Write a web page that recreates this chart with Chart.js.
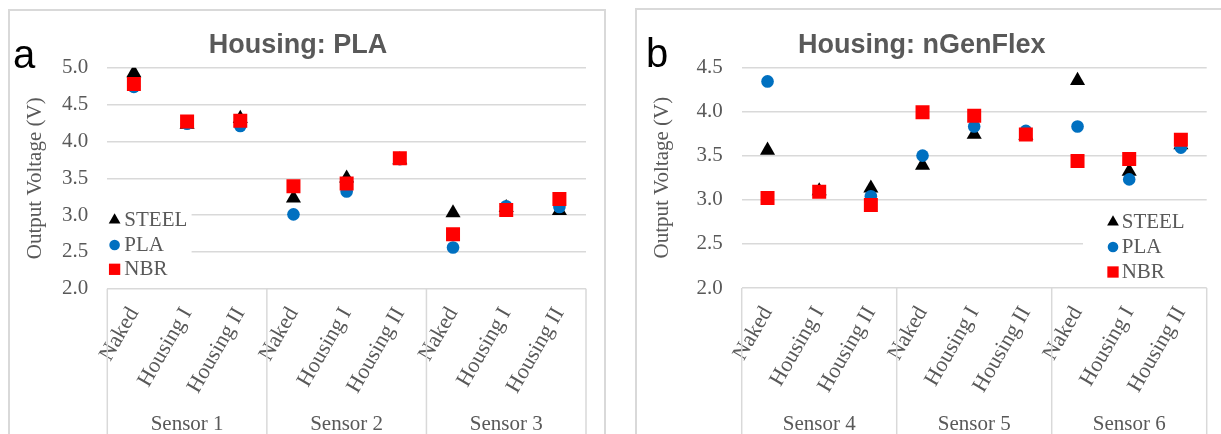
<!DOCTYPE html>
<html>
<head>
<meta charset="utf-8">
<script src="https://cdn.jsdelivr.net/npm/chart.js@4.4.0/dist/chart.umd.min.js"></script>
<style>
  body { margin: 0; background: #fff; width: 1221px; height: 434px; overflow: hidden; position: relative; }
  .panel { position: absolute; border: 2px solid #d9d9d9; border-bottom: none; height: 440px; box-sizing: border-box; }
  .panel canvas { position: absolute; left: 0; top: 0; }
  .tag { position: absolute; font-family: 'Liberation Sans'; font-size: 40px; line-height: 40px; color: #000; }
</style>
</head>
<body>
<div class="panel" style="left:8px; top:9px; width:598px;"><canvas id="c1" width="594" height="423"></canvas></div>
<div class="panel" style="left:635px; top:8px; width:600px;"><canvas id="c2" width="594" height="424"></canvas></div>
<div class="tag" style="left:13px; top:34px;">a</div>
<div class="tag" style="left:646px; top:33px;">b</div>
<script>
// categories (same for both panels)
var categories = ['Naked', 'Housing I', 'Housing II',
                  'Naked', 'Housing I', 'Housing II',
                  'Naked', 'Housing I', 'Housing II'];
var groupsA = ['Sensor 1', 'Sensor 2', 'Sensor 3'];
var groupsB = ['Sensor 4', 'Sensor 5', 'Sensor 6'];

// panel a - Housing: PLA
var steelA = [4.93, 4.23, 4.31, 3.23, 3.50, 3.75, 3.03, 3.10, 3.06];
var plaA   = [4.74, 4.24, 4.21, 3.01, 3.32, 3.76, 2.56, 3.12, 3.11];
var nbrA   = [4.78, 4.27, 4.28, 3.39, 3.43, 3.77, 2.74, 3.07, 3.22];

// panel b - Housing: nGenFlex
var steelB = [3.56, 3.10, 3.13, 3.39, 3.74, 3.73, 4.35, 3.32, 3.62];
var plaB   = [4.34, 3.09, 3.04, 3.50, 3.83, 3.78, 3.83, 3.23, 3.59];
var nbrB   = [3.02, 3.09, 2.94, 3.99, 3.95, 3.74, 3.44, 3.46, 3.68];

var yRangeA = [2.0, 5.0];
var yRangeB = [2.0, 4.5];

var grey = '#595959';
var serif = '"Liberation Serif", "DejaVu Serif", serif';

// two-level category axis: separators + sensor names under the rotated labels
var sensorGroups = {
    id: 'sensorGroups',
    afterDraw: function(chart, args, opts) {
        var ctx = chart.ctx, area = chart.chartArea, x = chart.scales.x;
        var n = opts.labels.length, per = chart.data.labels.length / n;
        var edges = [];
        ctx.save();
        ctx.strokeStyle = '#d9d9d9';
        ctx.lineWidth = 1.5;
        for (var g = 0; g <= n; g++) {
            var px;
            if (g === 0) px = area.left;
            else if (g === n) px = area.right;
            else px = (x.getPixelForValue(g * per - 1) + x.getPixelForValue(g * per)) / 2;
            edges.push(px);
            ctx.beginPath();
            ctx.moveTo(px, area.bottom);
            ctx.lineTo(px, chart.height);
            ctx.stroke();
        }
        ctx.fillStyle = grey;
        ctx.font = '21px ' + serif;
        ctx.textAlign = 'center';
        ctx.textBaseline = 'middle';
        opts.labels.forEach(function(t, i) {
            ctx.fillText(t, (edges[i] + edges[i + 1]) / 2, chart.height - opts.bottom);
        });
        ctx.restore();
    }
};

// legend in a white box inside the plot, like excel does it
var boxLegend = {
    id: 'boxLegend',
    afterDraw: function(chart, args, opts) {
        var ctx = chart.ctx, area = chart.chartArea;
        var bx = opts.side === 'left' ? area.left + opts.x0 : area.right + opts.x0;
        var bx2 = opts.side === 'left' ? area.left + opts.x1 : area.right + opts.x1;
        ctx.save();
        ctx.fillStyle = '#fff';
        ctx.fillRect(bx, area.bottom - opts.top, bx2 - bx, opts.top - 1.5);
        var sizes = { triangle: 6.8, circle: 5.3, rect: 8 };
        chart.data.datasets.forEach(function(ds, i) {
            var cy = area.bottom - opts.rows[i];
            ctx.fillStyle = ds.backgroundColor;
            Chart.helpers.drawPoint(ctx, { pointStyle: ds.pointStyle, radius: sizes[ds.pointStyle], rotation: 0, borderWidth: 0 }, bx + opts.marker, cy);
            ctx.fillStyle = grey;
            ctx.font = '21px ' + serif;
            ctx.textAlign = 'left';
            ctx.textBaseline = 'middle';
            ctx.fillText(ds.label, bx + opts.text, cy);
        });
        ctx.restore();
    }
};

function makeSets(steel, pla, nbr) {
    var sets = [
        { label: 'STEEL', data: steel, pointStyle: 'triangle', pointRadius: 8.7, backgroundColor: '#000000', order: 3 },
        { label: 'PLA', data: pla, pointStyle: 'circle', pointRadius: 6.3, backgroundColor: '#0070c0', order: 2 },
        { label: 'NBR', data: nbr, pointStyle: 'rect', pointRadius: 9.9, backgroundColor: '#ff0000', order: 1 }
    ];
    sets.forEach(function(d) {
        d.showLine = false;
        d.borderColor = d.backgroundColor;
        d.pointBackgroundColor = d.backgroundColor;
        d.pointBorderWidth = 0;
        d.borderWidth = 0;
        d.pointHoverRadius = d.pointRadius;
    });
    return sets;
}

function makeChart(id, cfg) {
    var font = { family: serif, size: 21 };
    return new Chart(document.getElementById(id), {
        type: 'line',
        data: { labels: categories, datasets: makeSets(cfg.steel, cfg.pla, cfg.nbr) },
        options: {
            responsive: false,
            animation: false,
            events: [],
            layout: { padding: { left: 0, right: cfg.padRight, top: 0, bottom: 0 } },
            plugins: {
                legend: { display: false },
                tooltip: { enabled: false },
                title: {
                    display: true,
                    text: cfg.title,
                    color: grey,
                    font: { family: '"Liberation Sans", Arial, sans-serif', size: 27, weight: 'bold', lineHeight: 1.2 },
                    padding: cfg.titlePad
                },
                sensorGroups: { labels: cfg.groups, bottom: 10 },
                boxLegend: cfg.legend
            },
            scales: {
                x: {
                    offset: true,
                    grid: { display: false, drawTicks: false },
                    border: { display: false },
                    ticks: { minRotation: 60, maxRotation: 60, autoSkip: false, padding: 14, color: grey, font: { family: serif, size: 22 } },
                    afterFit: function(s) { s.height = cfg.xHeight; }
                },
                y: {
                    min: cfg.yRange[0],
                    max: cfg.yRange[1],
                    grid: { color: '#d9d9d9', lineWidth: 1.5, drawTicks: false },
                    border: { display: false },
                    ticks: {
                        stepSize: 0.5, padding: 19, color: grey, font: font,
                        callback: function(v) { return v.toFixed(1); }
                    },
                    title: { display: true, text: 'Output Voltage (V)', color: grey, font: font, padding: { top: cfg.yTitlePad, bottom: 0 } },
                    afterFit: function(s) { s.width = cfg.yWidth; }
                }
            }
        },
        plugins: [sensorGroups, boxLegend]
    });
}

makeChart('c1', {
    title: 'Housing: PLA',
    steel: steelA, pla: plaA, nbr: nbrA,
    groups: groupsA,
    yRange: yRangeA,
    padRight: 18,
    yWidth: 97.3,
    yTitlePad: 12.4,
    xHeight: 145.2,
    titlePad: { top: 18, bottom: 6.3 },
    legend: { side: 'left', x0: -1, x1: 84.3, top: 84, marker: 8.3, text: 18, rows: [68.8, 43.8, 19.5] }
});

makeChart('c2', {
    title: 'Housing: nGenFlex',
    steel: steelB, pla: plaB, nbr: nbrB,
    groups: groupsB,
    yRange: yRangeB,
    padRight: 24.3,
    yWidth: 104.7,
    yTitlePad: 13,
    xHeight: 146,
    titlePad: { top: 19.6, bottom: 5.3 },
    legend: { side: 'right', x0: -123.7, x1: 1, top: 81, marker: 30, text: 38.7, rows: [66, 41, 16] }
});
</script>
</body>
</html>
